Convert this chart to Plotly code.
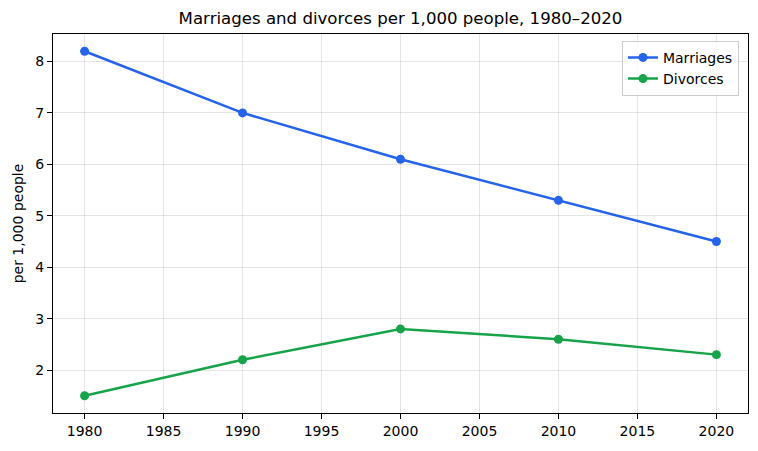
import plotly.graph_objects as go

years = [1980, 1990, 2000, 2010, 2020]
marriages = [8.2, 7.0, 6.1, 5.3, 4.5]
divorces = [1.5, 2.2, 2.8, 2.6, 2.3]

fig = go.Figure()
fig.add_trace(go.Scatter(x=years, y=marriages, name="Marriages", mode="lines+markers",
                         line=dict(color="#2563eb", width=2.5), marker=dict(size=9, color="#2563eb")))
fig.add_trace(go.Scatter(x=years, y=divorces, name="Divorces", mode="lines+markers",
                         line=dict(color="#16a34a", width=2.5), marker=dict(size=9, color="#16a34a")))

axis_common = dict(showline=True, linecolor="black", linewidth=1, mirror=True,
                   ticks="outside", ticklen=5, tickcolor="black",
                   showgrid=True, gridcolor="rgba(0,0,0,0.1)", gridwidth=1,
                   zeroline=False, tickfont=dict(size=14, color="black"))

fig.update_layout(
    width=758, height=451,
    margin=dict(l=53, r=10, t=34, b=38),
    paper_bgcolor="white", plot_bgcolor="white",
    font=dict(family="DejaVu Sans", color="black"),
    title=dict(text="Marriages and divorces per 1,000 people, 1980–2020", xref="paper", x=0.5,
               xanchor="center", y=1 - 18/451, yanchor="middle", font=dict(size=16.6)),
    xaxis=dict(range=[1978, 2022], tickmode="array", tickvals=list(range(1980, 2021, 5)), **axis_common),
    yaxis=dict(range=[1.165, 8.535], tickmode="array", tickvals=[2, 3, 4, 5, 6, 7, 8],
               title=dict(text="per 1,000 people", font=dict(size=14), standoff=8), **axis_common),
    legend=dict(x=0.987, y=0.982, xanchor="right", yanchor="top", bgcolor="rgba(255,255,255,0.8)",
                bordercolor="#cccccc", borderwidth=1, font=dict(size=14)),
    showlegend=True,
)
fig.write_html("out.html")
